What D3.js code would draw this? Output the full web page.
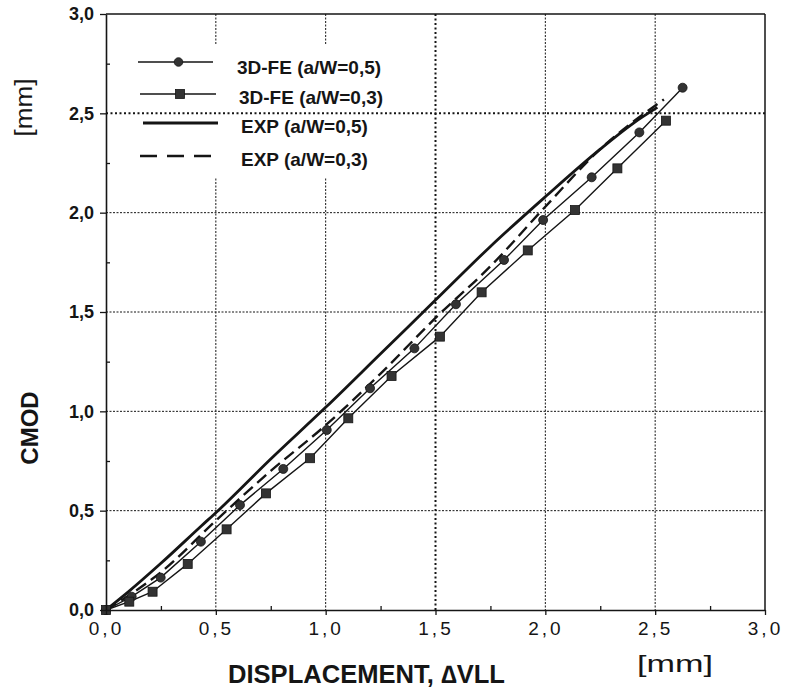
<!DOCTYPE html>
<html><head><meta charset="utf-8">
<script src="https://cdn.jsdelivr.net/npm/d3@7"></script>
<style>body{margin:0;background:#fff} svg{display:block}</style>
</head><body><svg id="c" width="789" height="693"></svg>
<script>
// ---- data (x = displacement ΔVLL [mm], y = CMOD [mm]) ----
const fe05 = [[0,0],[0.117,0.067],[0.249,0.163],[0.432,0.344],[0.61,0.528],[0.807,0.71],[1.005,0.906],[1.202,1.116],[1.404,1.317],[1.593,1.539],[1.812,1.762],[1.99,1.963],[2.211,2.178],[2.428,2.404],[2.625,2.629]];
const fe03 = [[0,0],[0.106,0.042],[0.212,0.092],[0.372,0.232],[0.549,0.406],[0.728,0.587],[0.929,0.764],[1.103,0.965],[1.30,1.178],[1.52,1.376],[1.71,1.599],[1.92,1.81],[2.135,2.013],[2.328,2.223],[2.549,2.463]];
const exp05 = [[0,0],[0.1,0.09],[0.25,0.235],[0.435,0.424],[0.51,0.50],[0.75,0.76],[1.0,1.02],[1.25,1.29],[1.5,1.56],[1.75,1.83],[2.0,2.08],[2.25,2.32],[2.4,2.45],[2.51,2.53]];
const exp03 = [[0,0],[0.1,0.07],[0.25,0.19],[0.5,0.45],[0.75,0.70],[1.0,0.93],[1.25,1.19],[1.5,1.47],[1.75,1.73],[2.0,2.03],[2.25,2.32],[2.54,2.57]];
const majorTicks = [0,0.5,1,1.5,2,2.5,3];
const minorTicks = [0.25,0.75,1.25,1.75,2.25,2.75];
const gridTicks = [0.5,1,1.5,2,2.5];
const legendLabels = ["3D-FE (a/W=0,5)","3D-FE (a/W=0,3)","EXP (a/W=0,5)","EXP (a/W=0,3)"];
const xTitle = "DISPLACEMENT, \u2206VLL";
const yTitle = "CMOD";
const unitLabel = "[mm]";

// ---- layout ----
const svg = d3.select("#c");
const L = 106, R = 765, T = 14, B = 610;
const x = d3.scaleLinear().domain([0,3]).range([L,R]);
const y = d3.scaleLinear().domain([0,3]).range([B,T]);
const fmt = v => d3.format(".1f")(v).replace(".", ",");
const INK = "#151515", MARK = "#333";
const FONT = "Liberation Sans, Arial, sans-serif";

// vertical grid
svg.append("g").selectAll("line").data(gridTicks).join("line")
  .attr("x1", d => x(d)).attr("x2", d => x(d)).attr("y1", T).attr("y2", B)
  .attr("stroke", INK)
  .attr("stroke-width", d => d === 1.5 ? 2 : 1)
  .attr("stroke-dasharray", d => d === 1.5 ? "2,2.5" : "2,1.5");

// legend background (covers vertical grid)
svg.append("rect").attr("x", 128).attr("y", 45).attr("width", 268).attr("height", 133).attr("fill", "#fff");

// horizontal grid
svg.append("g").selectAll("line").data(gridTicks).join("line")
  .attr("y1", d => y(d)).attr("y2", d => y(d)).attr("x1", L).attr("x2", R)
  .attr("stroke", INK)
  .attr("stroke-width", d => d === 2.5 ? 2 : 1)
  .attr("stroke-dasharray", d => d === 2.5 ? "2,2.5" : "2,1.5");

// borders
svg.append("line").attr("x1", L).attr("x2", R).attr("y1", T).attr("y2", T).attr("stroke", INK).attr("stroke-width", 1.5);
svg.append("line").attr("x1", R).attr("x2", R).attr("y1", T).attr("y2", B).attr("stroke", INK).attr("stroke-width", 1.5);

// data lines
const line = d3.line().x(d => x(d[0])).y(d => y(d[1])).curve(d3.curveMonotoneX);
const lineLin = d3.line().x(d => x(d[0])).y(d => y(d[1]));
svg.append("path").datum(exp05).attr("d", line).attr("fill","none").attr("stroke", INK).attr("stroke-width", 2.8);
svg.append("path").datum(exp03).attr("d", line).attr("fill","none").attr("stroke", INK).attr("stroke-width", 2.4).attr("stroke-dasharray","12,6");
svg.append("path").datum(fe05).attr("d", lineLin).attr("fill","none").attr("stroke", INK).attr("stroke-width", 1.4);
svg.append("path").datum(fe03).attr("d", lineLin).attr("fill","none").attr("stroke", INK).attr("stroke-width", 1.4);

// markers
svg.append("g").selectAll("circle").data(fe05).join("circle")
  .attr("cx", d => x(d[0])).attr("cy", d => y(d[1])).attr("r", 4.5)
  .attr("fill", MARK).attr("stroke", INK).attr("stroke-width", 0.8);
svg.append("g").selectAll("rect").data(fe03).join("rect")
  .attr("x", d => x(d[0]) - 4.5).attr("y", d => y(d[1]) - 4.5).attr("width", 9).attr("height", 9)
  .attr("fill", MARK).attr("stroke", INK).attr("stroke-width", 0.8);

// axes
const yAxis = svg.append("g").attr("transform", `translate(${L},0)`)
  .call(d3.axisLeft(y).tickValues(majorTicks).tickSize(6).tickSizeOuter(0).tickPadding(6).tickFormat(fmt));
svg.append("g").attr("transform", `translate(${L},0)`)
  .call(d3.axisRight(y).tickValues(minorTicks).tickSize(4).tickSizeOuter(0).tickFormat(""))
  .select(".domain").remove();
const xAxis = svg.append("g").attr("transform", `translate(0,${B})`)
  .call(d3.axisBottom(x).tickValues(majorTicks).tickSize(5).tickSizeOuter(0).tickPadding(7).tickFormat(fmt));
svg.append("g").attr("transform", `translate(0,${B})`)
  .call(d3.axisTop(x).tickValues(minorTicks).tickSize(4).tickSizeOuter(0).tickFormat(""))
  .select(".domain").remove();
svg.selectAll(".domain").attr("stroke", INK).attr("stroke-width", 1.6);
svg.selectAll(".tick line").attr("stroke", INK).attr("stroke-width", 1.3);
yAxis.selectAll("text").attr("font-family", FONT)
  .attr("font-size", 18).attr("font-weight", "bold").attr("fill", INK);
xAxis.selectAll("text").attr("font-family", FONT)
  .attr("font-size", 19).attr("letter-spacing", 3).attr("fill", INK);

// legend
const lg = [
  {x1:138, x2:213, y:62, tx:237, ty:74, type:"circle"},
  {x1:140, x2:216, y:94, tx:239, ty:104, type:"square"},
  {x1:143, x2:218, y:123, tx:241, ty:133, type:"thick"},
  {x1:140, x2:214, y:156, tx:241, ty:166, type:"dash"}
];
lg.forEach((e, i) => {
  const g = svg.append("g");
  const ln = g.append("line").attr("x1", e.x1).attr("x2", e.x2).attr("y1", e.y).attr("y2", e.y).attr("stroke", INK);
  if (e.type === "circle") { ln.attr("stroke-width", 1.4);
    g.append("circle").attr("cx", (e.x1+e.x2)/2+3).attr("cy", e.y).attr("r", 4.3).attr("fill", MARK).attr("stroke", INK).attr("stroke-width",0.8); }
  if (e.type === "square") { ln.attr("stroke-width", 1.4);
    g.append("rect").attr("x", (e.x1+e.x2)/2+2-4.5).attr("y", e.y-4.5).attr("width", 9).attr("height", 9).attr("fill", MARK).attr("stroke", INK).attr("stroke-width",0.8); }
  if (e.type === "thick") ln.attr("stroke-width", 2.8);
  if (e.type === "dash") ln.attr("stroke-width", 2.4).attr("stroke-dasharray", "17,10");
  g.append("text").attr("x", e.tx).attr("y", e.ty).text(legendLabels[i])
    .attr("font-family", FONT).attr("font-size", 19).attr("font-weight", "bold").attr("fill", INK);
});

// titles
svg.append("text").attr("x", 228).attr("y", 683).text(xTitle)
  .attr("font-family", FONT).attr("font-size", 25).attr("font-weight", "bold").attr("fill", INK)
  .attr("textLength", 277).attr("lengthAdjust", "spacingAndGlyphs");
svg.append("text").attr("x", 637).attr("y", 672).text(unitLabel)
  .attr("font-family", FONT).attr("font-size", 24).attr("fill", INK)
  .attr("textLength", 76).attr("lengthAdjust", "spacingAndGlyphs");
svg.append("text").attr("transform", "translate(37.5,428) rotate(-90)").attr("text-anchor", "middle").text(yTitle)
  .attr("font-family", FONT).attr("font-size", 24).attr("font-weight", "bold").attr("fill", INK);
svg.append("text").attr("transform", "translate(32,107.5) rotate(-90)").attr("text-anchor", "middle").text(unitLabel)
  .attr("font-family", FONT).attr("font-size", 23).attr("fill", INK)
  .attr("textLength", 58).attr("lengthAdjust", "spacingAndGlyphs");
</script></body></html>
